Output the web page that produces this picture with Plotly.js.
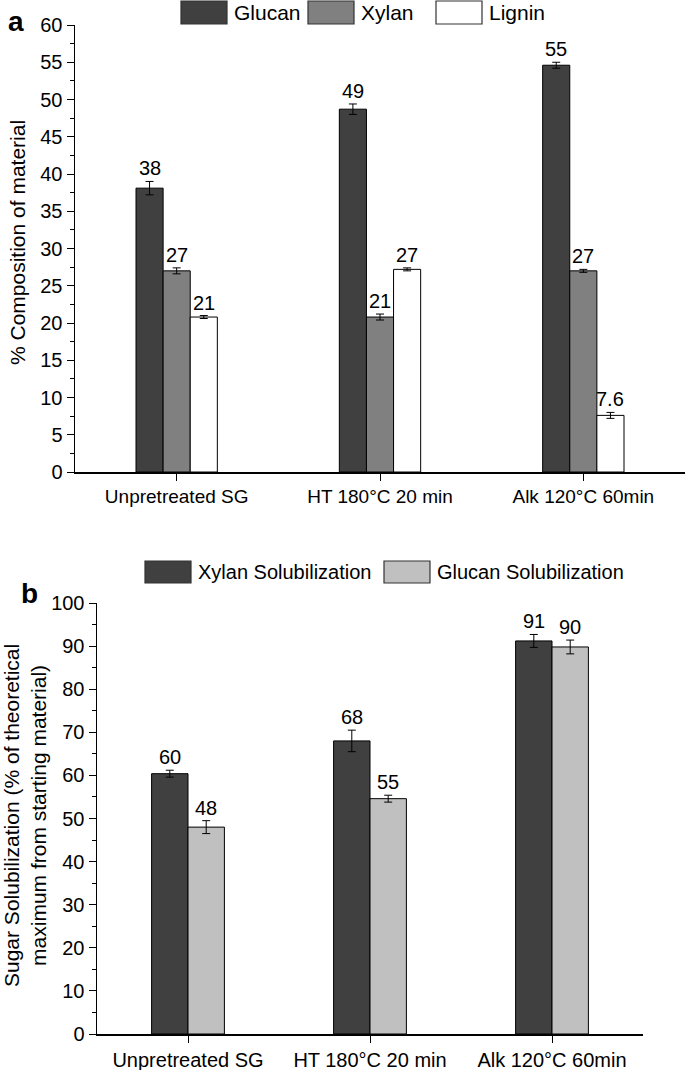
<!DOCTYPE html>
<html>
<head>
<meta charset="utf-8">
<script src="https://cdn.plot.ly/plotly-3.0.1.min.js"></script>
<style>
  html, body { margin: 0; padding: 0; background: #fff; }
  #grafica { width: 685px; height: 1070px; }
</style>
</head>
<body>
<div id="grafica"></div>
<script>
// Datos panel a: composición del material
const categorias = ['Unpretreated SG', 'HT 180°C 20 min', 'Alk 120°C 60min'];
const glucanA = [38.1, 48.7, 54.6];
const glucanAErr = [0.9, 0.7, 0.4];
const xylanA = [27.0, 20.8, 27.0];
const xylanAErr = [0.4, 0.4, 0.2];
const ligninA = [20.8, 27.2, 7.6];
const ligninAErr = [0.2, 0.2, 0.4];
const etiquetasGlucanA = ['38', '49', '55'];
const etiquetasXylanA = ['27', '21', '27'];
const etiquetasLigninA = ['21', '27', '7.6'];

// Datos panel b: solubilización de azúcares
const xylanSol = [60.4, 68.0, 91.2];
const xylanSolErr = [0.8, 2.5, 1.5];
const glucanSol = [48.0, 54.6, 89.8];
const glucanSolErr = [1.5, 0.8, 1.6];
const etiquetasXylanSol = ['60', '68', '91'];
const etiquetasGlucanSol = ['48', '55', '90'];

const W = 685, H = 1070;
const px = x => x / W;
const py = y => 1 - y / H;
const fuente = 'Liberation Sans, Arial, sans-serif';

function barra(y, err, color, xa, ya) {
    return {
        type: 'bar', x: categorias, y: y, xaxis: xa, yaxis: ya,
        marker: { color: color, line: { color: '#000', width: 1 } },
        error_y: { type: 'data', array: err, visible: true, color: '#000', thickness: 1, width: 4 },
        showlegend: false, hoverinfo: 'skip'
    };
}

const trazas = [
    barra(glucanA, glucanAErr, '#404040', 'x', 'y'),
    barra(xylanA, xylanAErr, '#808080', 'x', 'y'),
    barra(ligninA, ligninAErr, '#ffffff', 'x', 'y'),
    barra(xylanSol, xylanSolErr, '#404040', 'x2', 'y2'),
    barra(glucanSol, glucanSolErr, '#c0c0c0', 'x2', 'y2')
];

// Etiquetas de valor sobre las barras de error
const anotaciones = [];
function etiquetas(vals, errs, textos, desplaz, xr, yr) {
    vals.forEach((v, i) => {
        anotaciones.push({
            x: i + desplaz, y: v + errs[i], xref: xr, yref: yr,
            text: textos[i], showarrow: false, xanchor: 'center', yanchor: 'bottom', yshift: 0,
            font: { family: fuente, size: 20, color: '#000' }
        });
    });
}
etiquetas(glucanA, glucanAErr, etiquetasGlucanA, -0.1333, 'x', 'y');
etiquetas(xylanA, xylanAErr, etiquetasXylanA, 0, 'x', 'y');
etiquetas(ligninA, ligninAErr, etiquetasLigninA, 0.1333, 'x', 'y');
etiquetas(xylanSol, xylanSolErr, etiquetasXylanSol, -0.1, 'x2', 'y2');
etiquetas(glucanSol, glucanSolErr, etiquetasGlucanSol, 0.1, 'x2', 'y2');

// Leyendas dibujadas a mano (cuadros grandes como en la figura)
const formas = [];
function leyenda(x0, y0, y1, color, texto, tam) {
    formas.push({
        type: 'rect', xref: 'paper', yref: 'paper',
        x0: px(x0), x1: px(x0 + 46), y0: py(y0), y1: py(y1),
        fillcolor: color, line: { color: '#333', width: 1.2 }
    });
    anotaciones.push({
        x: px(x0 + 51), y: py((y0 + y1) / 2), xref: 'paper', yref: 'paper',
        text: texto, showarrow: false, xanchor: 'left', yanchor: 'middle',
        font: { family: fuente, size: tam, color: '#000' }
    });
}
leyenda(181, 1, 24, '#404040', 'Glucan', 21);
leyenda(308, 1, 24, '#808080', 'Xylan', 21);
leyenda(436, 1, 24, '#ffffff', 'Lignin', 21);
leyenda(145, 561, 583, '#404040', 'Xylan Solubilization', 20);
leyenda(384, 561, 583, '#c0c0c0', 'Glucan Solubilization', 20);

// Letras de panel y títulos de eje
const centro = { showarrow: false, xanchor: 'center', yanchor: 'middle', xref: 'paper', yref: 'paper' };
anotaciones.push(
    Object.assign({}, centro, { x: px(16), y: py(21), text: '<b>a</b>',
      font: { family: fuente, size: 28, color: '#000' } }),
    Object.assign({}, centro, { x: px(29), y: py(593), text: '<b>b</b>',
      font: { family: fuente, size: 28, color: '#000' } }),
    Object.assign({}, centro, { x: px(17), y: py(243), text: '% Composition of material',
      textangle: -90, font: { family: fuente, size: 21, color: '#000' } }),
    Object.assign({}, centro, { x: px(25), y: py(816),
      text: 'Sugar Solubilization (% of theoretical<br>maximum from starting material)',
      textangle: -90, font: { family: fuente, size: 21, color: '#000' } })
);

const ejeX = {
    type: 'category', range: [-0.5, 2.5], showline: true, linecolor: '#000', linewidth: 1.5,
    ticks: 'outside', ticklen: 7, tickcolor: '#000', showgrid: false, zeroline: false,
    tickfont: { family: fuente, size: 19, color: '#000' }, fixedrange: true
};
const ejeY = {
    showline: true, linecolor: '#000', linewidth: 1.5, ticks: 'outside', ticklen: 7,
    tickcolor: '#000', showgrid: false, zeroline: false,
    tickfont: { family: fuente, size: 20, color: '#000' }, fixedrange: true
};

const layout = {
    width: W, height: H,
    margin: { l: 0, r: 0, t: 0, b: 0 },
    paper_bgcolor: '#fff', plot_bgcolor: '#fff',
    barmode: 'group', bargap: 0.6, bargroupgap: 0,
    xaxis: Object.assign({}, ejeX, { domain: [px(75), px(685)], anchor: 'y' }),
    yaxis: Object.assign({}, ejeY, {
        domain: [py(472), py(25)], anchor: 'x', range: [0, 60], dtick: 5,
        minor: { dtick: 2.5, ticks: 'outside', ticklen: 4, tickcolor: '#000', showgrid: false }
    }),
    xaxis2: Object.assign({}, ejeX, { domain: [px(97), px(643)], anchor: 'y2',
        tickfont: { family: fuente, size: 20, color: '#000' } }),
    yaxis2: Object.assign({}, ejeY, {
        domain: [py(1034), py(603)], anchor: 'x2', range: [0, 100], dtick: 10,
        minor: { dtick: 5, ticks: 'outside', ticklen: 4, tickcolor: '#000', showgrid: false }
    }),
    shapes: formas,
    annotations: anotaciones,
    showlegend: false
};

Plotly.newPlot('grafica', trazas, layout, { displayModeBar: false, staticPlot: true });
</script>
</body>
</html>
